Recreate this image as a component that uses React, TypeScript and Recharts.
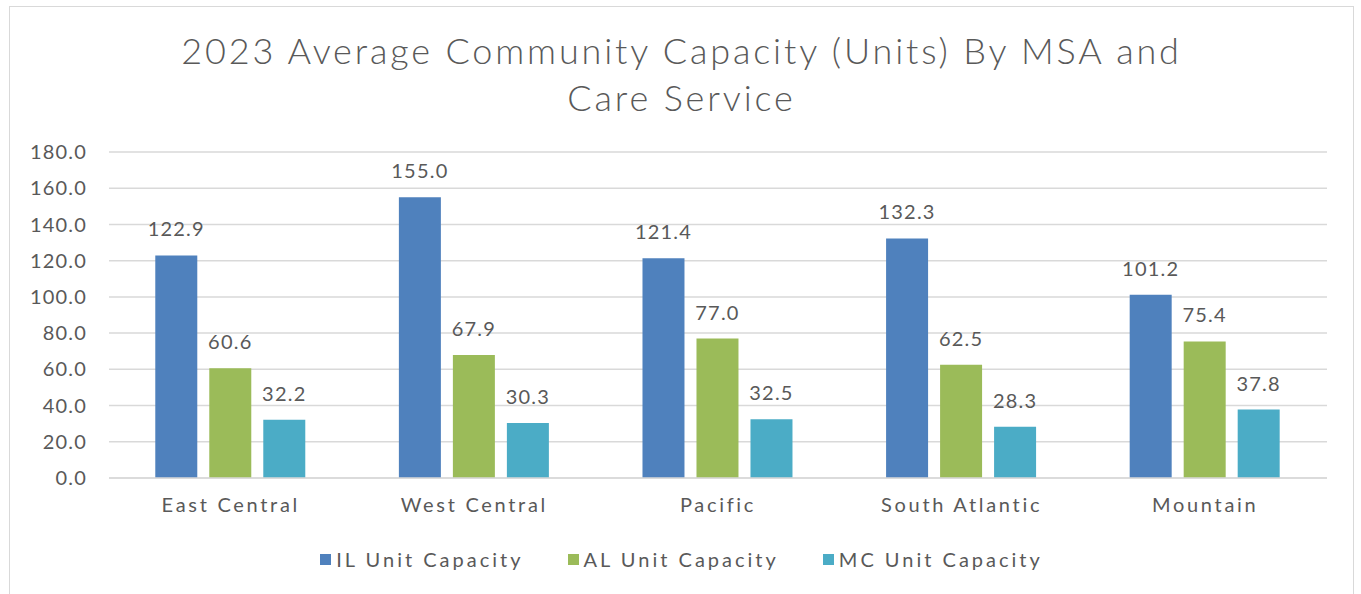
import { BarChart, Bar, XAxis, YAxis, CartesianGrid, LabelList } from "recharts";

const regions = ["East Central", "West Central", "Pacific", "South Atlantic", "Mountain"];
const ilCapacity = [122.9, 155.0, 121.4, 132.3, 101.2];
const alCapacity = [60.6, 67.9, 77.0, 62.5, 75.4];
const mcCapacity = [32.2, 30.3, 32.5, 28.3, 37.8];
const yTicks = [0, 20, 40, 60, 80, 100, 120, 140, 160, 180];

const seriesInfo = [
  { key: "il", name: "IL Unit Capacity", color: "#4F81BD" },
  { key: "al", name: "AL Unit Capacity", color: "#9BBB59" },
  { key: "mc", name: "MC Unit Capacity", color: "#4BACC6" },
];

const data = regions.map((region, i) => ({
  region,
  il: ilCapacity[i],
  al: alCapacity[i],
  mc: mcCapacity[i],
}));

const FONT = "Lato, 'Open Sans', sans-serif";
const TEXT = "#595959";
const fmt = (v: number | string) => Number(v).toFixed(1);

export default function App() {
  return (
    <div
      style={{
        position: "absolute",
        left: 9,
        top: 6,
        width: 1343,
        height: 600,
        border: "1.5px solid #d9d9d9",
        background: "#fff",
        fontFamily: FONT,
        color: TEXT,
      }}
    >
      <div
        style={{
          position: "absolute",
          left: 0,
          right: 0,
          top: 20,
          textAlign: "center",
          fontSize: 36,
          fontWeight: 300,
          lineHeight: "47px",
          letterSpacing: 2.85,
        }}
      >
        2023 Average Community Capacity (Units) By MSA and
        <br />
        Care Service
      </div>
      <BarChart
        width={1343}
        height={588}
        data={data}
        barGap={12}
        barCategoryGap="19%"
        margin={{ top: 145, right: 26, bottom: 77, left: 0 }}
        style={{ position: "absolute", left: 0, top: 0 }}
      >
        <CartesianGrid vertical={false} stroke="#d9d9d9" strokeWidth={1.5} />
        <XAxis
          dataKey="region"
          axisLine={{ stroke: "#d9d9d9", strokeWidth: 1.5 }}
          tickLine={false}
          tickMargin={14}
          height={40}
          tick={{ fill: TEXT, fontSize: 20, fontFamily: FONT, letterSpacing: 2.7 }}
        />
        <YAxis
          domain={[0, 180]}
          ticks={yTicks}
          width={99}
          axisLine={false}
          tickLine={false}
          tickMargin={16}
          tickFormatter={fmt}
          tick={{ fill: TEXT, fontSize: 20, fontFamily: FONT, letterSpacing: 1.2 }}
        />
        {seriesInfo.map((s) => (
          <Bar key={s.key} dataKey={s.key} name={s.name} fill={s.color} isAnimationActive={false}>
            <LabelList
              dataKey={s.key}
              position="top"
              offset={19}
              formatter={fmt}
              fill={TEXT}
              fontSize={20}
              fontFamily={FONT}
              letterSpacing={1.2}
            />
          </Bar>
        ))}
      </BarChart>
      <div
        style={{
          position: "absolute",
          left: 0,
          right: 0,
          top: 540,
          display: "flex",
          justifyContent: "center",
          gap: 44,
          fontSize: 20,
          letterSpacing: 3,
        }}
      >
        {seriesInfo.map((s) => (
          <div key={s.key} style={{ display: "flex", alignItems: "center" }}>
            <span style={{ width: 11, height: 11, background: s.color, marginRight: 5, display: "inline-block" }} />
            {s.name}
          </div>
        ))}
      </div>
    </div>
  );
}
